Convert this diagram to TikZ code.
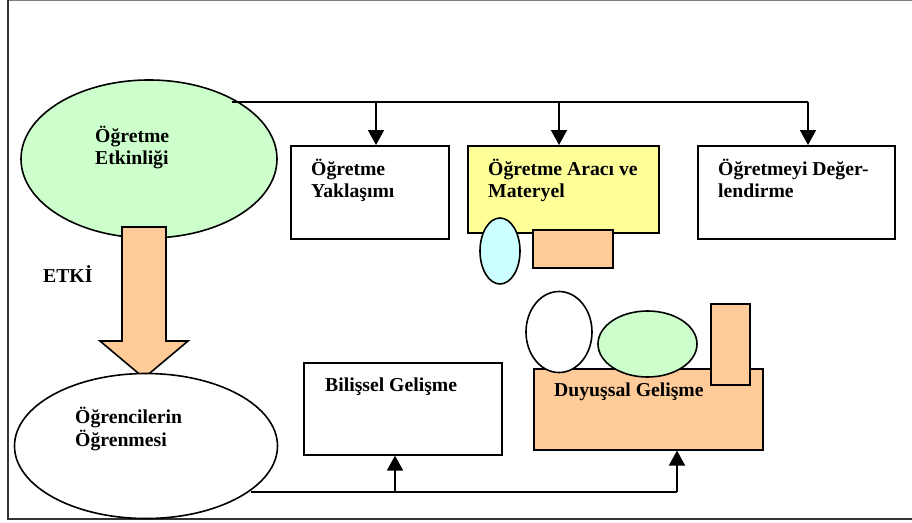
\documentclass[tikz,border=0pt]{standalone}
\usepackage{fontspec}
\setmainfont{Liberation Serif}
\usetikzlibrary{shapes.geometric,arrows.meta}
\definecolor{lgreen}{HTML}{CCFFCC}
\definecolor{lyellow}{HTML}{FFFF99}
\definecolor{lorange}{HTML}{FFCC99}
\definecolor{lcyan}{HTML}{CCFFFF}
\tikzset{
  shp/.style={draw=black,line width=1.6pt},
  ell/.style={shp,ellipse,inner sep=0pt},
  box/.style={shp,rectangle,inner sep=0pt,anchor=north west},
  lbl/.style={anchor=base west,inner sep=0pt,font=\bfseries\fontsize{19.7}{23}\selectfont},
  conn/.style={line width=1.8pt},
  arr/.style={conn,-{Triangle[width=16pt,length=15pt]}}
}
\begin{document}
\begin{tikzpicture}[x=1pt,y=-1pt]
\useasboundingbox (0,0) rectangle (912,522);
% frame
\draw[gray,line width=1pt] (8,0.5) -- (912,0.5);
\draw[black!80,line width=2pt] (8,0) -- (8,519) -- (912,519);
% top ellipse
\node[ell,fill=lgreen,minimum width=256pt,minimum height=158pt] (act) at (149,159) {};
\node[lbl] (actA) at (95,142) {Öğretme};
\node[lbl] (actB) at (95,164) {Etkinliği};
% top boxes
\node[box,minimum width=158pt,minimum height=93pt] (yak) at (290,145) {};
\node[lbl] (yakA) at (311,175) {Öğretme};
\node[lbl] (yakB) at (311,197) {Yaklaşımı};
\node[box,fill=lyellow,minimum width=191pt,minimum height=87pt] (mat) at (467,145) {};
\node[lbl] (matA) at (488,175) {Öğretme Aracı ve};
\node[lbl] (matB) at (488,197) {Materyel};
\node[box,minimum width=197pt,minimum height=93pt] (deg) at (697,145) {};
\node[lbl] (degA) at (718,175) {Öğretmeyi Değer-};
\node[lbl] (degB) at (718,197) {lendirme};
% small shapes under yellow box
\node[ell,fill=lcyan,minimum width=40pt,minimum height=66pt] (cyan) at (500,251) {};
\node[box,fill=lorange,minimum width=80pt,minimum height=38pt] (orsm) at (532,229) {};
% top connector
\coordinate (tl) at (232,102);
\coordinate (b1) at (376,102);
\coordinate (b2) at (559,102);
\coordinate (b3) at (808,102);
\draw[conn] (tl) -- (b3);
\draw[arr] (b1) -- (b1 |- yak.north);
\draw[arr] (b2) -- (b2 |- mat.north);
\draw[arr] (b3) -- (b3 |- deg.north);
% big orange arrow
\draw[shp,fill=lorange,line join=miter] (122,227) -- (166,227) -- (166,341) -- (188,341) -- (144,378) -- (100,341) -- (122,341) -- cycle;
\node[lbl] (etki) at (43,282) {ETKİ};
% bottom ellipse
\node[ell,fill=white,minimum width=263pt,minimum height=145pt] (ogr) at (146,446) {};
\node[lbl] (ogrA) at (75,423) {Öğrencilerin};
\node[lbl] (ogrB) at (75,446) {Öğrenmesi};
% bilissel box
\node[box,minimum width=198pt,minimum height=92pt] (bil) at (303,362) {};
\node[lbl] (bilA) at (325,391) {Bilişsel Gelişme};
% duyussal
\node[box,fill=lorange,minimum width=229pt,minimum height=81pt] (duy) at (533,368) {};
\node[ell,fill=white,minimum width=66pt,minimum height=81pt] (wh) at (559,332) {};
\node[ell,fill=lgreen,minimum width=99pt,minimum height=66pt] (gr) at (647.5,344) {};
\node[box,fill=lorange,minimum width=39pt,minimum height=81pt] (tall) at (710,303) {};
\node[lbl] (duyA) at (554,396) {Duyuşsal Gelişme};
% bottom connector
\coordinate (bl) at (251,492);
\coordinate (c1) at (395,492);
\coordinate (c2) at (677,492);
\draw[conn] (bl) -- (c2);
\draw[arr] (c1) -- (c1 |- bil.south);
\draw[arr] (c2) -- (c2 |- duy.south);
\end{tikzpicture}
\end{document}
